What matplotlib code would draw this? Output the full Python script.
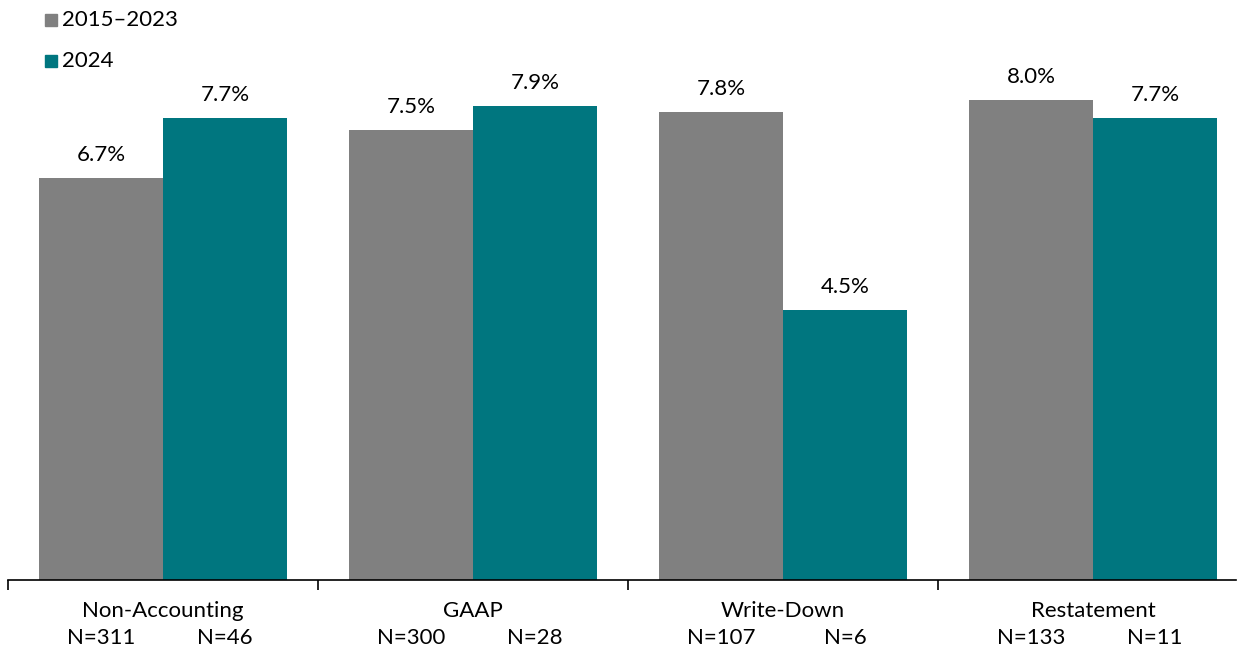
import numpy as np
import matplotlib.pyplot as plt

plt.rcParams['font.family'] = ['Lato', 'DejaVu Sans']

categories = ["Non-Accounting", "GAAP", "Write-Down", "Restatement"]
series_names = ["2015\u20132023", "2024"]
vals_prior = [6.7, 7.5, 7.8, 8.0]
vals_2024 = [7.7, 7.9, 4.5, 7.7]
n_prior = [311, 300, 107, 133]
n_2024 = [46, 28, 6, 11]

colors = ["#808080", "#00767F"]

fig = plt.figure(figsize=(12.38, 6.48), dpi=100)
ax = fig.add_axes([8 / 1238, 68 / 648, 1228 / 1238, 580 / 648])

x = np.arange(len(categories))
w = 0.4
b1 = ax.bar(x - w / 2, vals_prior, w, color=colors[0], label=series_names[0])
b2 = ax.bar(x + w / 2, vals_2024, w, color=colors[1], label=series_names[1])

for bars in (b1, b2):
    for r in bars:
        ax.text(r.get_x() + r.get_width() / 2, r.get_height() + 0.22,
                f"{r.get_height():.1f}%", ha="center", va="bottom", fontsize=16)

for s in ["top", "right", "left"]:
    ax.spines[s].set_visible(False)
ax.spines["bottom"].set_color("black")
ax.spines["bottom"].set_linewidth(1.2)
ax.set_yticks([])
ax.set_xticks(np.arange(-0.5, 4, 1.0))
ax.set_xticklabels([])
ax.tick_params(axis="x", direction="out", length=7, width=1.2, color="black")

# limits after the ticks, so the tick at 3.5 does not widen the view
ax.set_xlim(-0.5, -0.5 + 1228 / 310)
ax.set_ylim(0, 580 / 60.0)

for i, c in enumerate(categories):
    ax.text(i, -0.52, c, ha="center", va="center", fontsize=16, clip_on=False)
    ax.text(i - w / 2, -0.96, f"N={n_prior[i]}", ha="center", va="center", fontsize=16, clip_on=False)
    ax.text(i + w / 2, -0.96, f"N={n_2024[i]}", ha="center", va="center", fontsize=16, clip_on=False)

# legend drawn by hand at the top left
for j, name in enumerate(series_names):
    yy = 1 - (20 + 41 * j) / 648
    fig.patches.append(plt.Rectangle((45 / 1238, yy - 6 / 648), 12 / 1238, 12 / 648,
                                     transform=fig.transFigure, color=colors[j]))
    fig.text(62 / 1238, yy, name, ha="left", va="center", fontsize=16)

fig.savefig("out.png", dpi=100)
